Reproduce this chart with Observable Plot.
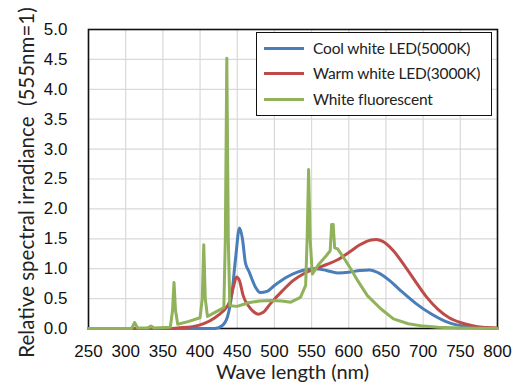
<!DOCTYPE html>
<html>
<head>
<meta charset="utf-8">
<script src="https://cdn.jsdelivr.net/npm/d3@7"></script>
<script src="https://cdn.jsdelivr.net/npm/@observablehq/plot@0.6"></script>
<style>
  html, body { margin: 0; padding: 0; background: #fff; }
  #wrap { position: relative; width: 513px; height: 382px; }
  #legend { position: absolute; left: 256px; top: 32px; width: 234px; height: 82px;
    border: 1.5px solid #111; background: #fff; font-family: Lato, sans-serif; font-size: 15.5px; color: #222; letter-spacing: -0.15px; }
  .row { position: absolute; left: 0; height: 20px; display: flex; align-items: center; white-space: nowrap; }
  .sw { width: 40px; height: 3px; margin-left: 7px; margin-right: 9px; }
</style>
</head>
<body>
<div id="wrap"></div>
<script>
// ---- data ----
const seriesNames = ["Cool white LED(5000K)", "Warm white LED(3000K)", "White fluorescent"];
const seriesColors = ["#4a7ebb", "#be4b48", "#8fb25a"];

const coolWl  = [250, 420, 430, 437, 443, 448, 453, 457, 461, 466, 470, 475, 481, 490, 500, 515, 530, 545, 555, 570, 585, 600, 615, 628, 640, 655, 670, 690, 710, 730, 745, 760, 780, 800];
const coolVal = [0,   0,   0.05,0.2, 0.6, 1.2, 1.68,1.5, 1.1, 0.95,0.82,0.68,0.6, 0.62,0.72,0.85,0.94,0.99,1.0, 0.97,0.93,0.94,0.97,0.98,0.93,0.8, 0.63,0.42,0.25,0.12,0.06,0.03,0.01,0];

const warmWl  = [250, 360, 370, 390, 405, 420, 430, 440, 445, 449, 453, 458, 465, 472, 478, 485, 495, 510, 525, 540, 555, 570, 585, 600, 615, 630, 637, 645, 660, 675, 690, 705, 720, 735, 750, 765, 780, 800];
const warmVal = [0,   0,   0.01,0.03,0.08,0.18,0.28,0.45,0.7, 0.86,0.8, 0.55,0.38,0.28,0.24,0.27,0.42,0.62,0.8, 0.92,1.0, 1.07,1.15,1.27,1.4, 1.48,1.49,1.46,1.3, 1.05,0.78,0.52,0.32,0.18,0.1, 0.05,0.02,0.01];

const fluoWl  = [250, 308, 312, 316, 330, 334, 338, 360, 363, 365, 367, 370, 385, 400, 403, 405, 407, 410, 420, 432, 434, 436, 438, 440, 450, 465, 480, 495, 510, 522, 535, 542, 544, 546, 548, 551, 560, 570, 575, 577, 579, 581, 585, 595, 605, 612, 625, 643, 660, 680, 700, 720, 750, 800];
const fluoVal = [0,   0,   0.1, 0.01,0.01,0.04,0.01,0.02,0.3, 0.77,0.3, 0.07,0.12,0.18,0.5, 1.4, 0.5, 0.2, 0.27,0.35,1.5, 4.52,1.5, 0.38,0.37,0.43,0.46,0.47,0.46,0.44,0.52,0.72,1.5, 2.66,1.5, 0.91,1.08,1.22,1.3, 1.74,1.74,1.35,1.33,1.15,0.95,0.8, 0.55,0.33,0.16,0.08,0.04,0.02,0.01,0];

const xTicks = [250, 300, 350, 400, 450, 500, 550, 600, 650, 700, 750, 800];
const yTicks = [0, 0.5, 1, 1.5, 2, 2.5, 3, 3.5, 4, 4.5, 5];
const xTitle = "Wave length (nm)";
const yTitle = "Relative spectral irradiance  (555nm=1)";

// ---- build tables ----
const toRows = (wl, val, s) => wl.map((w, i) => ({wl: w, v: val[i], s}));
const cool = toRows(coolWl, coolVal, seriesNames[0]);
const warm = toRows(warmWl, warmVal, seriesNames[1]);
const fluo = toRows(fluoWl, fluoVal, seriesNames[2]);

const W = 513, H = 382;
const chart = Plot.plot({
  width: W, height: H,
  marginLeft: 88, marginRight: 16, marginTop: 29, marginBottom: 54,
  style: {fontFamily: "'Liberation Sans', Arial, sans-serif", fontSize: "17px", color: "#111", background: "#fff"},
  x: {domain: [250, 800]},
  y: {domain: [0, 5]},
  marks: [
    Plot.gridX(xTicks, {stroke: "#d9d9d9", strokeOpacity: 1, strokeWidth: 1.2}),
    Plot.gridY(yTicks, {stroke: "#d9d9d9", strokeOpacity: 1, strokeWidth: 1.2}),
    Plot.axisX({ticks: xTicks, tickSize: 0, tickPadding: 16, label: null, fontSize: 17}),
    Plot.axisY({ticks: yTicks, tickSize: 0, tickPadding: 21, label: null, fontSize: 17, tickFormat: d3.format(".1f")}),
    Plot.frame({stroke: "#111", strokeWidth: 1.6}),
    Plot.line(cool, {x: "wl", y: "v", stroke: seriesColors[0], strokeWidth: 3, curve: "monotone-x"}),
    Plot.line(warm, {x: "wl", y: "v", stroke: seriesColors[1], strokeWidth: 3, curve: "monotone-x"}),
    Plot.line(fluo, {x: "wl", y: "v", stroke: seriesColors[2], strokeWidth: 3, curve: "linear", strokeLinejoin: "round"})
  ]
});

const wrap = document.getElementById("wrap");
wrap.appendChild(chart);

// axis titles
const svg = d3.select(chart);
svg.append("text")
  .attr("x", (88 + (W - 16)) / 2).attr("y", 379)
  .attr("text-anchor", "middle")
  .attr("font-family", "Lato, sans-serif").attr("font-size", 20).attr("fill", "#222")
  .text(xTitle);
svg.append("text")
  .attr("transform", `translate(34, ${(29 + (H - 54)) / 2 + 4}) rotate(-90)`)
  .attr("text-anchor", "middle")
  .attr("font-family", "Lato, sans-serif").attr("font-size", 20.5).attr("fill", "#222")
  .attr("xml:space", "preserve").style("white-space", "pre")
  .text(yTitle);

// legend
const legend = document.createElement("div");
legend.id = "legend";
const rowTops = [5, 30, 56];
seriesNames.forEach((name, i) => {
  const row = document.createElement("div");
  row.className = "row";
  row.style.top = rowTops[i] + "px";
  const sw = document.createElement("div");
  sw.className = "sw";
  sw.style.background = seriesColors[i];
  const t = document.createElement("span");
  t.textContent = name;
  row.appendChild(sw); row.appendChild(t);
  legend.appendChild(row);
});
wrap.appendChild(legend);
</script>
</body>
</html>
